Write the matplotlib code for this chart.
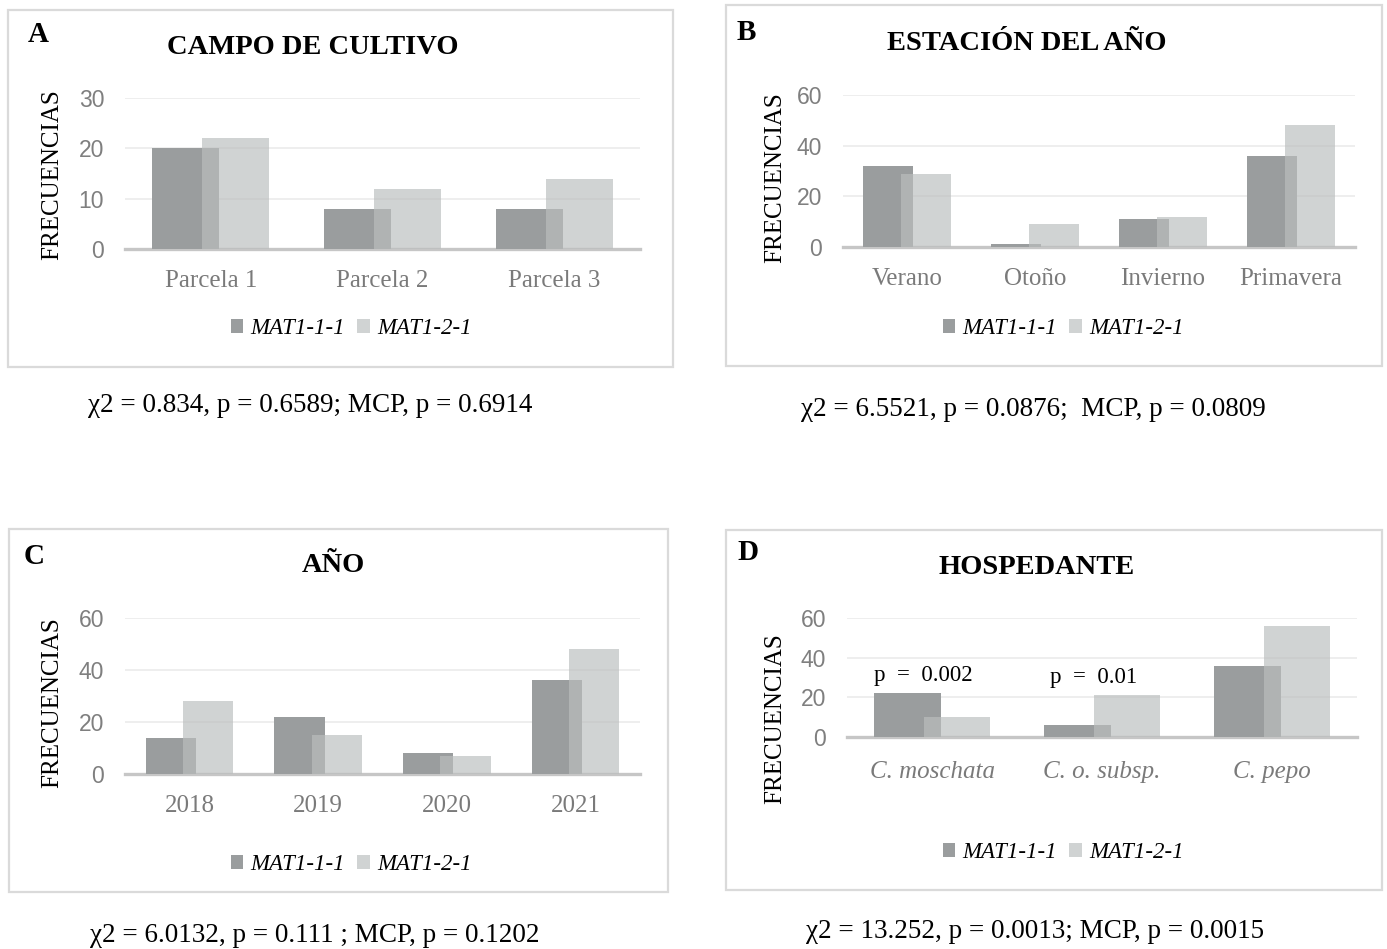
import matplotlib
matplotlib.use("Agg")
from matplotlib import pyplot as plt
from matplotlib.patches import Rectangle
import numpy as np

# data
series = ["MAT1-1-1", "MAT1-2-1"]

campo_cats = ["Parcela 1", "Parcela 2", "Parcela 3"]
campo_mat111 = [20, 8, 8]
campo_mat121 = [22, 12, 14]

estacion_cats = ["Verano", "Otoño", "Invierno", "Primavera"]
estacion_mat111 = [32, 1, 11, 36]
estacion_mat121 = [29, 9, 12, 48]

anio_cats = ["2018", "2019", "2020", "2021"]
anio_mat111 = [14, 22, 8, 36]
anio_mat121 = [28, 15, 7, 48]

host_cats = ["C. moschata", "C. o. subsp.", "C. pepo"]
host_mat111 = [22, 6, 36]
host_mat121 = [10, 21, 56]
host_pvals = ["p  =  0.002", "p  =  0.01"]

W, H = 1387, 949
fig = plt.figure(figsize=(W / 100, H / 100), dpi=100)

SERIF = ["Liberation Serif", "DejaVu Serif"]
NARROW = ["Liberation Sans Narrow", "Liberation Sans", "DejaVu Sans"]
DARK = "#9a9d9e"
LIGHT = (0.735, 0.745, 0.745)
LIGHT_ALPHA = 0.68


def fx(x):
    return x / W


def fy(y):
    return 1 - y / H


def box(x0, y0, x1, y1):
    fig.patches.append(Rectangle((fx(x0), fy(y1)), fx(x1 - x0), (y1 - y0) / H,
                                 transform=fig.transFigure, fill=False,
                                 edgecolor="#dadada", lw=1.6))


def panel(rect, cats, v1, v2, ymax, yticks, italic_cats=False, xpad=15):
    x0, y0, x1, y1 = rect
    ax = fig.add_axes([fx(x0), fy(y1), fx(x1 - x0), (y1 - y0) / H])
    idx = np.arange(len(cats))
    off, wd = 0.145, 0.39
    b1 = ax.bar(idx - off, v1, wd, color=DARK, zorder=2)
    b2 = ax.bar(idx + off, v2, wd, color=LIGHT, alpha=LIGHT_ALPHA, zorder=3)
    ax.set_xlim(-0.5, len(cats) - 0.5)
    ax.set_ylim(0, ymax)
    ax.set_yticks(yticks)
    ax.set_xticks(idx)
    ax.set_xticklabels(cats, family=SERIF, fontsize=18, color="#7a7a7a",
                       style="italic" if italic_cats else "normal")
    for lab in ax.get_yticklabels():
        lab.set_family(NARROW)
        lab.set_fontsize(16.5)
        lab.set_color("#7f7f7f")
    ax.tick_params(axis="y", length=0, pad=15)
    ax.tick_params(axis="x", length=0, pad=xpad)
    for s in ax.spines.values():
        s.set_visible(False)
    ax.set_axisbelow(True)
    ax.yaxis.grid(True, color="#eeeeee", lw=1.4)
    ax.axhline(0, color="#c6c6c6", lw=2.4, zorder=1.5, clip_on=False)
    ax.patch.set_alpha(0)
    return ax, b1, b2


def legend(ax, b1, b2, xc, yc):
    leg = ax.legend([b1, b2], series, loc="center",
                    bbox_to_anchor=(fx(xc), fy(yc)), bbox_transform=fig.transFigure,
                    ncol=2, frameon=False, handlelength=0.55, handleheight=0.55,
                    handletextpad=0.3, columnspacing=0.55, borderaxespad=0,
                    prop={"family": SERIF, "style": "italic", "size": 16.5})
    return leg


# A
box(8, 10, 673, 367)
ax, b1, b2 = panel((125, 98, 640, 249), campo_cats, campo_mat111, campo_mat121, 30, [0, 10, 20, 30])
legend(ax, b1, b2, 351, 329)
fig.text(fx(28), fy(35), "A", family=SERIF, weight="bold", fontsize=21, va="center", ha="left")
fig.text(fx(313), fy(47), "CAMPO DE CULTIVO", family=SERIF, weight="bold", fontsize=20.5,
         va="center", ha="center")
fig.text(fx(52), fy(175), "FRECUENCIAS", family=SERIF, fontsize=18, rotation=90,
         va="center", ha="center")
fig.text(fx(310), fy(406), "χ2 = 0.834, p = 0.6589; MCP, p = 0.6914", family=SERIF,
         fontsize=19.5, va="center", ha="center")

# B
box(726, 5, 1382, 366)
ax, b1, b2 = panel((843, 95, 1355, 247), estacion_cats, estacion_mat111, estacion_mat121, 60, [0, 20, 40, 60])
legend(ax, b1, b2, 1063, 329)
fig.text(fx(737), fy(32), "B", family=SERIF, weight="bold", fontsize=21, va="center", ha="left")
fig.text(fx(1027), fy(43), "ESTACIÓN DEL AÑO", family=SERIF, weight="bold", fontsize=20.5,
         va="center", ha="center")
fig.text(fx(775), fy(178), "FRECUENCIAS", family=SERIF, fontsize=18, rotation=90,
         va="center", ha="center")
fig.text(fx(1033), fy(409), "χ2 = 6.5521, p = 0.0876;  MCP, p = 0.0809", family=SERIF,
         fontsize=19.5, va="center", ha="center")

# C
box(9, 529, 668, 892)
ax, b1, b2 = panel((125, 618, 640, 774), anio_cats, anio_mat111, anio_mat121, 60, [0, 20, 40, 60])
legend(ax, b1, b2, 351, 865)
fig.text(fx(24), fy(556), "C", family=SERIF, weight="bold", fontsize=21, va="center", ha="left")
fig.text(fx(333), fy(566), "AÑO", family=SERIF, weight="bold", fontsize=20.5,
         va="center", ha="center")
fig.text(fx(52), fy(703), "FRECUENCIAS", family=SERIF, fontsize=18, rotation=90,
         va="center", ha="center")
fig.text(fx(315), fy(935), "χ2 = 6.0132, p = 0.111 ; MCP, p = 0.1202", family=SERIF,
         fontsize=19.5, va="center", ha="center")

# D
box(726, 530, 1382, 890)
ax, b1, b2 = panel((847, 618, 1357, 737), host_cats, host_mat111, host_mat121, 60, [0, 20, 40, 60],
                   italic_cats=True, xpad=17)
legend(ax, b1, b2, 1063, 853)
for i, txt in enumerate(host_pvals):
    top = max(host_mat111[i], host_mat121[i])
    ax.annotate(txt, (i, top), xytext=(-6, 5), textcoords="offset points",
                ha="center", va="bottom", family=SERIF, fontsize=16.5)
fig.text(fx(737), fy(553), "D", family=SERIF, weight="bold", fontsize=21, va="center", ha="left")
fig.text(fx(1037), fy(567), "HOSPEDANTE", family=SERIF, weight="bold", fontsize=20.5,
         va="center", ha="center")
fig.text(fx(775), fy(719), "FRECUENCIAS", family=SERIF, fontsize=18, rotation=90,
         va="center", ha="center")
fig.text(fx(1035), fy(932), "χ2 = 13.252, p = 0.0013; MCP, p = 0.0015", family=SERIF,
         fontsize=19.5, va="center", ha="center")

fig.savefig("out.png", dpi=100)
